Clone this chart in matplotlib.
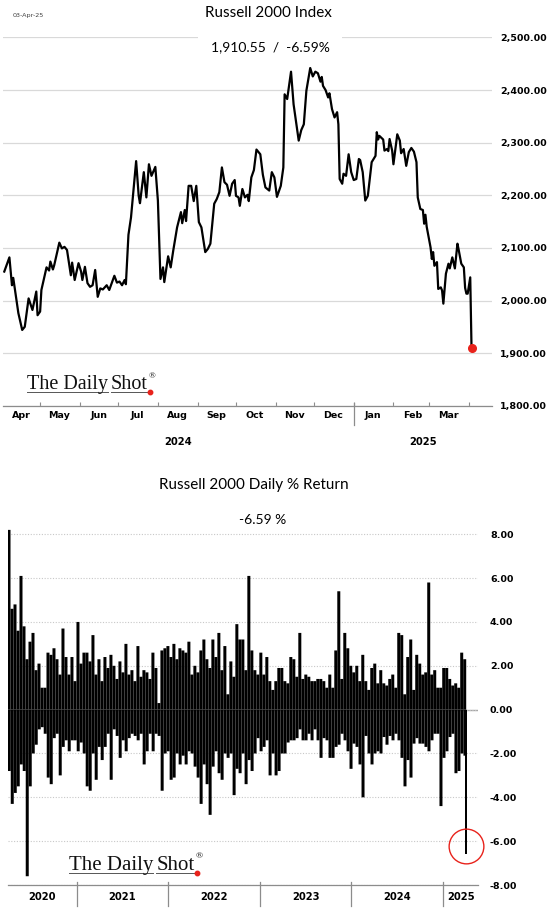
import matplotlib
matplotlib.use("Agg")
import matplotlib.pyplot as plt
import matplotlib.dates as mdates
import matplotlib.transforms as mtransforms
from matplotlib.lines import Line2D
from matplotlib.ticker import FixedLocator, FuncFormatter, NullFormatter
import numpy as np
import pandas as pd

# ---------------- top panel: Russell 2000 index level ----------------
idx_dates = [
    "2024-04-03", "2024-04-07", "2024-04-09", "2024-04-10", "2024-04-14", "2024-04-17", "2024-04-19", "2024-04-22",
    "2024-04-25", "2024-04-28", "2024-04-29", "2024-05-01", "2024-05-02", "2024-05-06", "2024-05-08", "2024-05-09",
    "2024-05-11", "2024-05-12", "2024-05-16", "2024-05-18", "2024-05-20", "2024-05-22", "2024-05-25", "2024-05-26",
    "2024-05-28", "2024-05-31", "2024-06-02", "2024-06-03", "2024-06-05", "2024-06-07", "2024-06-09", "2024-06-11",
    "2024-06-13", "2024-06-15", "2024-06-17", "2024-06-19", "2024-06-22", "2024-06-24", "2024-06-28", "2024-06-30",
    "2024-07-02", "2024-07-04", "2024-07-06", "2024-07-07", "2024-07-09", "2024-07-11", "2024-07-15", "2024-07-17",
    "2024-07-18", "2024-07-21", "2024-07-23", "2024-07-25", "2024-07-27", "2024-07-30", "2024-08-01", "2024-08-03",
    "2024-08-05", "2024-08-06", "2024-08-09", "2024-08-11", "2024-08-13", "2024-08-16", "2024-08-19", "2024-08-20",
    "2024-08-22", "2024-08-23", "2024-08-25", "2024-08-27", "2024-08-29", "2024-08-31", "2024-09-02", "2024-09-04",
    "2024-09-07", "2024-09-09", "2024-09-11", "2024-09-14", "2024-09-16", "2024-09-18", "2024-09-20", "2024-09-22",
    "2024-09-24", "2024-09-26", "2024-09-28", "2024-09-30", "2024-10-01", "2024-10-03", "2024-10-04", "2024-10-06",
    "2024-10-08", "2024-10-10", "2024-10-11", "2024-10-13", "2024-10-15", "2024-10-17", "2024-10-20", "2024-10-22",
    "2024-10-24", "2024-10-27", "2024-10-29", "2024-10-31", "2024-11-02", "2024-11-05", "2024-11-07", "2024-11-08",
    "2024-11-10", "2024-11-13", "2024-11-15", "2024-11-19", "2024-11-21", "2024-11-23", "2024-11-25", "2024-11-28",
    "2024-11-30", "2024-12-02", "2024-12-04", "2024-12-06", "2024-12-07", "2024-12-08", "2024-12-10", "2024-12-12",
    "2024-12-13", "2024-12-15", "2024-12-17", "2024-12-19", "2024-12-20", "2024-12-21", "2024-12-23", "2024-12-24",
    "2024-12-26", "2024-12-28", "2024-12-30", "2025-01-01", "2025-01-03", "2025-01-05", "2025-01-06", "2025-01-08",
    "2025-01-10", "2025-01-12", "2025-01-15", "2025-01-18", "2025-01-19", "2025-01-20", "2025-01-21", "2025-01-24",
    "2025-01-25", "2025-01-27", "2025-01-28", "2025-01-29", "2025-01-31", "2025-02-01", "2025-02-04", "2025-02-06",
    "2025-02-07", "2025-02-09", "2025-02-11", "2025-02-13", "2025-02-15", "2025-02-17", "2025-02-19", "2025-02-20",
    "2025-02-22", "2025-02-24", "2025-02-25", "2025-02-26", "2025-02-27", "2025-03-02", "2025-03-03", "2025-03-04",
    "2025-03-05", "2025-03-07", "2025-03-08", "2025-03-10", "2025-03-11", "2025-03-12", "2025-03-14", "2025-03-16",
    "2025-03-17", "2025-03-19", "2025-03-21", "2025-03-23", "2025-03-24", "2025-03-26", "2025-03-28", "2025-03-29",
    "2025-03-30", "2025-03-31", "2025-04-02", "2025-04-03",
]
idx_values = [
    2055, 2082, 2029, 2043, 1976, 1944, 1950, 2004, 1982, 2017, 1972, 1979, 2020, 2063, 2057, 2074,
    2059, 2067, 2110, 2099, 2102, 2096, 2048, 2072, 2039, 2071, 2055, 2039, 2064, 2033, 2026, 2029,
    2058, 2007, 2023, 2021, 2029, 2020, 2047, 2034, 2036, 2029, 2039, 2031, 2125, 2158, 2265, 2199,
    2185, 2244, 2196, 2259, 2237, 2254, 2190, 2041, 2063, 2035, 2084, 2063, 2095, 2139, 2168, 2147,
    2172, 2151, 2218, 2218, 2189, 2218, 2149, 2139, 2092, 2098, 2108, 2184, 2193, 2206, 2253, 2225,
    2220, 2199, 2222, 2229, 2199, 2196, 2180, 2212, 2196, 2201, 2189, 2234, 2248, 2287, 2278, 2239,
    2215, 2209, 2244, 2234, 2197, 2218, 2253, 2392, 2383, 2435, 2373, 2304, 2324, 2335, 2399, 2442,
    2426, 2435, 2432, 2416, 2425, 2408, 2400, 2386, 2394, 2364, 2348, 2358, 2335, 2231, 2222, 2241,
    2237, 2278, 2244, 2229, 2231, 2269, 2267, 2244, 2190, 2199, 2263, 2275, 2320, 2306, 2313, 2306,
    2285, 2288, 2284, 2307, 2285, 2259, 2316, 2304, 2280, 2288, 2256, 2282, 2290, 2283, 2263, 2196,
    2174, 2172, 2146, 2163, 2140, 2101, 2079, 2092, 2066, 2073, 2022, 2025, 2019, 1994, 2051, 2070,
    2061, 2082, 2061, 2108, 2096, 2070, 2063, 2024, 2013, 2013, 2044, 1910.55,
]
idx_title = "Russell 2000 Index"
idx_subtitle = "1,910.55  /  -6.59%"
idx_ticks = [1800, 1900, 2000, 2100, 2200, 2300, 2400, 2500]
idx_years = ["2024", "2025"]

# ---------------- bottom panel: daily % return ----------------
# best and worst day of each short stretch, read left to right
ret_up = [
    8.2, 4.6, 4.8, 3.6, 6.1, 3.8, 2.3, 3.1, 3.5, 1.8,
    2.1, 1.0, 1.0, 2.6, 2.5, 2.8, 2.3, 1.6, 3.7, 2.4,
    1.6, 2.4, 1.3, 4.0, 2.1, 2.6, 2.6, 2.2, 3.4, 1.6,
    2.3, 1.3, 2.4, 1.9, 2.5, 2.0, 1.4, 2.2, 1.7, 3.0,
    1.6, 1.8, 1.3, 2.9, 1.5, 1.8, 1.7, 1.4, 2.6, 1.9,
    0.3, 2.7, 2.8, 2.9, 2.4, 3.0, 2.3, 2.8, 2.7, 2.6,
    3.1, 1.6, 2.0, 1.7, 2.7, 3.2, 2.3, 1.9, 3.2, 2.4,
    3.5, 1.8, 2.9, 0.7, 2.2, 1.5, 3.9, 3.2, 3.2, 1.8,
    6.1, 2.7, 1.8, 1.6, 2.6, 1.6, 2.4, 1.3, 0.9, 1.3,
    1.9, 1.9, 1.3, 1.2, 2.4, 2.3, 1.5, 3.5, 1.4, 1.6,
    1.5, 1.3, 1.3, 1.4, 1.4, 1.3, 1.0, 1.6, 1.0, 2.7,
    5.4, 1.4, 3.5, 2.8, 2.0, 1.7, 2.0, 1.3, 2.5, 1.3,
    0.9, 1.9, 2.1, 1.2, 1.8, 1.2, 1.1, 1.4, 1.6, 1.0,
    3.5, 3.4, 0.7, 2.4, 3.2, 0.9, 2.5, 2.1, 1.6, 1.7,
    5.8, 1.6, 1.8, 1.0, 1.0, 1.9, 1.9, 1.4, 1.1, 1.2,
    1.0, 2.6, 2.3,
]
ret_down = [
    -2.8, -4.3, -3.8, -3.5, -2.5, -2.8, -7.6, -3.5, -2.0, -1.6,
    -0.9, -0.8, -1.1, -3.1, -3.4, -1.3, -1.1, -3.0, -1.7, -1.4,
    -1.9, -1.4, -1.4, -1.9, -1.5, -2.0, -3.5, -3.7, -2.0, -3.2,
    -1.7, -2.3, -1.7, -1.1, -3.2, -0.9, -1.2, -2.2, -1.4, -1.9,
    -1.3, -1.1, -1.2, -1.4, -1.1, -2.5, -1.9, -1.1, -1.9, -1.1,
    -1.2, -3.7, -2.0, -1.9, -3.2, -3.1, -2.0, -2.5, -2.1, -2.5,
    -1.9, -2.0, -2.6, -3.1, -4.3, -2.5, -3.4, -4.8, -2.6, -1.9,
    -2.9, -3.2, -2.0, -2.2, -2.0, -3.9, -2.7, -2.9, -2.0, -3.4,
    -2.3, -2.8, -2.0, -1.3, -1.9, -1.7, -1.4, -3.0, -2.0, -3.0,
    -2.8, -2.0, -2.0, -1.5, -1.4, -1.4, -1.3, -0.9, -1.4, -1.4,
    -1.1, -1.4, -0.9, -1.4, -2.2, -1.3, -1.4, -2.2, -2.2, -1.7,
    -1.6, -1.1, -1.4, -1.9, -2.7, -1.55, -1.7, -2.5, -4.0, -1.2,
    -2.0, -2.5, -2.0, -1.9, -2.0, -1.25, -1.6, -1.2, -1.4, -1.1,
    -1.4, -2.2, -3.5, -2.3, -3.1, -1.55, -1.3, -1.55, -1.55, -1.7,
    -1.9, -1.4, -1.1, -1.1, -4.4, -2.2, -1.9, -1.25, -1.1, -2.9,
    -2.8, -2.0, -2.1,
]
ret_last = -6.59
ret_start, ret_stop, ret_last_day = "2020-04-06", "2025-03-28", "2025-04-03"
ret_title = "Russell 2000 Daily % Return"
ret_subtitle = "-6.59 %"
ret_ticks = [-8, -6, -4, -2, 0, 2, 4, 6, 8]
ret_years = [2020, 2021, 2022, 2023, 2024, 2025]

RED = "#e8221b"
GRID = "#d9d9d9"
AXC = "#8c8c8c"
W, H = 557, 921


def fx(px):
    return px / W


def fy(py):
    return 1 - py / H


def bold_ticks(labels):
    for t in labels:
        t.set_fontweight("bold")


def add_logo(fig, x, base, size):
    r = fig.canvas.get_renderer()
    kw = dict(family="Liberation Serif", size=size, va="baseline", color="#111111")
    t1 = fig.text(fx(x), fy(base), "The Daily", **kw)
    b1 = t1.get_window_extent(r)
    t2 = fig.text(b1.x1 / W + fx(3), fy(base), "Shot", **kw)
    b2 = t2.get_window_extent(r)
    fig.text(b2.x1 / W + fx(1), fy(base - size * 0.75), "®", family="Liberation Serif",
             size=size * 0.45, va="baseline", color="#111111")
    uy = fy(base + 3)
    for b in (b1, b2):
        fig.add_artist(Line2D([b.x0 / W, b.x1 / W], [uy, uy], color="#555555", lw=0.7))
    fig.add_artist(Line2D([b2.x1 / W + fx(2)], [uy], marker="o", ms=3.2, color=RED, lw=0))


fig = plt.figure(figsize=(W / 100, H / 100), dpi=100)
plt.rcParams["font.family"] = ["Lato", "DejaVu Sans"]

# ---------- top chart ----------
ax1 = fig.add_axes([fx(3), fy(405.7), (492 - 3) / W, (405.7 - 37.5) / H])
d1 = pd.to_datetime(idx_dates)
ax1.plot(d1, idx_values, color="black", lw=1.6)
ax1.plot(d1[-1:], idx_values[-1:], "o", color=RED, ms=5.5, zorder=5)
ax1.set_ylim(idx_ticks[0], idx_ticks[-1])
ax1.set_xlim(pd.Timestamp("2024-04-02"), pd.Timestamp("2025-04-19"))
ax1.yaxis.tick_right()
ax1.set_yticks(idx_ticks)
ax1.yaxis.set_major_formatter(FuncFormatter(lambda v, p: f"{v:,.2f}"))
ax1.tick_params(axis="y", length=0, pad=5.8, labelsize=6.8, labelfontfamily="DejaVu Sans")
bold_ticks(ax1.get_yticklabels())
ax1.grid(axis="y", color=GRID, lw=0.9)
ax1.set_axisbelow(True)
for s in ("top", "left", "right"):
    ax1.spines[s].set_visible(False)
ax1.spines["bottom"].set_color(AXC)
ax1.spines["bottom"].set_linewidth(0.9)

ax1.xaxis.set_major_locator(mdates.MonthLocator())
ax1.xaxis.set_major_formatter(NullFormatter())
mids = pd.date_range("2024-04-01", "2025-03-01", freq="MS") + pd.Timedelta(days=15)
ax1.xaxis.set_minor_locator(FixedLocator(mdates.date2num(mids)))
ax1.xaxis.set_minor_formatter(mdates.DateFormatter("%b"))
ax1.tick_params(axis="x", which="major", direction="in", length=3, width=0.8, color=AXC)
ax1.tick_params(axis="x", which="minor", length=0, pad=3.5, labelsize=6.8, labelfontfamily="DejaVu Sans")
bold_ticks(ax1.get_xticklabels(minor=True))

tr1 = mtransforms.blended_transform_factory(ax1.transData, ax1.transAxes)
lo, hi = ax1.get_xlim()
jan = mdates.date2num(pd.Timestamp("2025-01-01"))
for lab, a, b in ((idx_years[0], lo, jan), (idx_years[1], jan, hi)):
    ax1.text((a + b) / 2, -0.098, lab, transform=tr1, ha="center", va="center",
             fontsize=7.2, fontweight="bold", family="DejaVu Sans")
ax1.add_line(Line2D([jan, jan], [0.008, -0.053], transform=tr1, color=AXC, lw=0.9, clip_on=False))

fig.text(fx(268), fy(13), idx_title, ha="center", va="center", fontsize=11)
fig.text(fx(270), fy(46.7), idx_subtitle, ha="center", va="center", fontsize=10,
         bbox=dict(facecolor="white", edgecolor="none", pad=9))
fig.text(fx(13), fy(15.7), "03-Apr-25", ha="left", va="center", fontsize=4.6,
         family="DejaVu Sans", color="#404040")

# ---------- bottom chart ----------
ax2 = fig.add_axes([fx(8), fy(885), (478 - 8) / W, (885 - 525.5) / H])
bins = pd.date_range(ret_start, ret_stop, periods=len(ret_up))
step = (bins[1] - bins[0]).total_seconds() / 86400
ax2.axhline(0, color="#a6a6a6", lw=1, zorder=0.5)
ups = ax2.bar(bins, ret_up, width=step, color="black", lw=0, zorder=2)
downs = ax2.bar(bins + pd.Timedelta(days=1), ret_down, width=step, color="black", lw=0, zorder=2)
for p in list(ups) + list(downs):
    p.set_snap(False)
last_day = pd.Timestamp(ret_last_day)
ax2.bar([last_day], [ret_last], width=step * 0.55, color="black", lw=0, zorder=2)
ax2.plot([last_day], [ret_last + 0.35], "o", ms=25, mfc="none", mec=RED, mew=1, zorder=3,
         clip_on=False)
ax2.set_ylim(ret_ticks[0], 8.4)
ax2.set_xlim(pd.Timestamp("2020-04-02"), pd.Timestamp("2025-05-20"))
ax2.yaxis.tick_right()
ax2.set_yticks(ret_ticks)
ax2.yaxis.set_major_formatter(FuncFormatter(lambda v, p: f"{v:.2f}"))
ax2.tick_params(axis="y", length=0, pad=8.6, labelsize=6.8, labelfontfamily="DejaVu Sans")
bold_ticks(ax2.get_yticklabels())
ax2.grid(axis="y", color="#c8c8c8", lw=0.8, ls=(0, (1, 1.5)))
ax2.set_axisbelow(True)
ax2.set_xticks([])
for s in ("top", "left", "right"):
    ax2.spines[s].set_visible(False)
ax2.spines["bottom"].set_color(AXC)
ax2.spines["bottom"].set_linewidth(0.9)

tr2 = mtransforms.blended_transform_factory(ax2.transData, ax2.transAxes)
lo, hi = ax2.get_xlim()
for yr in ret_years:
    a = max(lo, mdates.date2num(pd.Timestamp(f"{yr}-01-01")))
    b = min(hi, mdates.date2num(pd.Timestamp(f"{yr + 1}-01-01")))
    ax2.text((a + b) / 2, -0.0325, str(yr), transform=tr2, ha="center", va="center",
             fontsize=7.2, fontweight="bold", family="DejaVu Sans")
    if yr > ret_years[0]:
        ax2.add_line(Line2D([a, a], [0.009, -0.058], transform=tr2, color=AXC, lw=0.9, clip_on=False))

fig.text(fx(254), fy(485), ret_title, ha="center", va="center", fontsize=11)
fig.text(fx(263), fy(520), ret_subtitle, ha="center", va="center", fontsize=10)

add_logo(fig, 27, 389.3, 14.5)
add_logo(fig, 69, 870, 15)

fig.savefig("out.png", dpi=100)
